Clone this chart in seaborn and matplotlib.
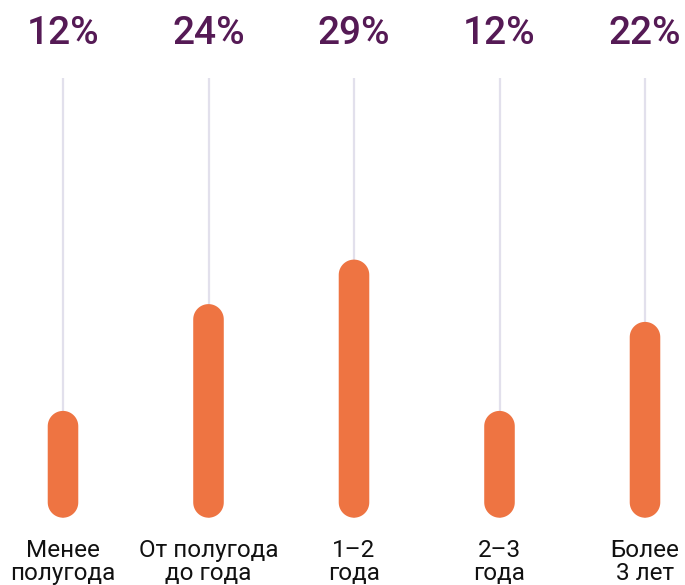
import matplotlib
matplotlib.use("Agg")
import numpy as np
import matplotlib.pyplot as plt
import seaborn as sns
import pandas as pd
from matplotlib.patches import Polygon

categories = ["Менее\nполугода", "От полугода\nдо года", "1–2\nгода", "2–3\nгода", "Более\n3 лет"]
values = [12, 24, 29, 12, 22]
labels = ["12%", "24%", "29%", "12%", "22%"]

BAR_COLOR = "#EE7442"
PCT_COLOR = "#551A55"
LINE_COLOR = "#E2E0EC"

sns.set_style("white")
plt.rcParams["font.family"] = ["Roboto", "DejaVu Sans"]

W, H = 685, 585
fig = plt.figure(figsize=(W / 100, H / 100), dpi=100)
ax = fig.add_axes([0, 0, 1, 1])

df = pd.DataFrame({"cat": categories, "val": values})
sns.barplot(data=df, x="cat", y="val", width=0.21, color=BAR_COLOR,
            ax=ax, saturation=1, zorder=3)

px_per_x = 145.5
px_per_y = 8.9
y0_px = H - 517.7
ax.set_xlim(-63 / px_per_x, (W - 63) / px_per_x)
ax.set_ylim(-y0_px / px_per_y, (H - y0_px) / px_per_y)
ax.axis("off")

def py(pix_from_top):
    return (H - pix_from_top - y0_px) / px_per_y

aspect = px_per_x / px_per_y
centers = []
t = np.linspace(0, np.pi, 40)
for p in list(ax.patches):
    x, y, w, h = p.get_x(), p.get_y(), p.get_width(), p.get_height()
    cx = x + w / 2
    centers.append(cx)
    p.remove()
    rx = w / 2
    ry = rx * aspect
    top = np.column_stack([cx + rx * np.cos(t), y + h - ry + ry * np.sin(t)])
    bot = np.column_stack([cx - rx * np.cos(t), y + ry - ry * np.sin(t)])
    ax.add_patch(Polygon(np.vstack([top, bot]), closed=True,
                         fc=BAR_COLOR, ec="none", zorder=3))

ax.vlines(centers, 0, py(78), color=LINE_COLOR, lw=1.6, zorder=1)

for c, lab, cat in zip(centers, labels, categories):
    ax.text(c, py(33), lab, ha="center", va="center", fontsize=28,
            fontweight="medium", color=PCT_COLOR)
    ax.text(c, py(539), cat, ha="center", va="top", fontsize=17.5,
            color="#111111", linespacing=1.0)

fig.savefig("out.png", dpi=100)
